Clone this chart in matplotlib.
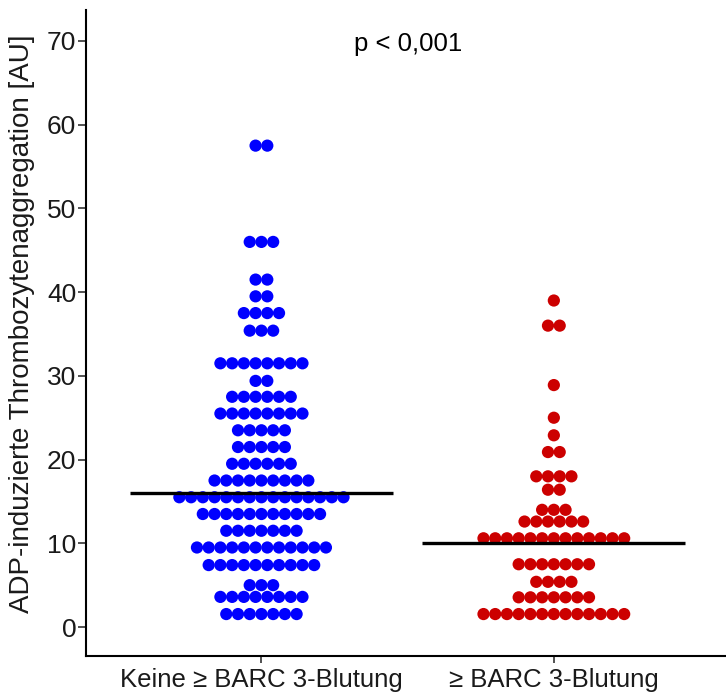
import numpy as np
import matplotlib
matplotlib.use('Agg')
import matplotlib.pyplot as plt

plt.rcParams['font.family'] = ['Liberation Sans', 'DejaVu Sans']

# Dot rows: row value (AU) and number of dots in the row
groups = ['Keine ≥ BARC 3-Blutung', '≥ BARC 3-Blutung']
blue_rows = [57.5, 46.0, 41.5, 39.5, 37.5, 35.4, 31.5, 29.4, 27.5, 25.5, 23.5,
             21.5, 19.5, 17.5, 15.5, 13.5, 11.5, 9.5, 7.4, 5.0, 3.6, 1.55]
blue_counts = [2, 3, 2, 2, 4, 3, 8, 2, 6, 8, 5, 5, 6, 9, 15, 11, 7, 12, 10, 3, 8, 7]
red_rows = [39.0, 36.0, 28.9, 25.0, 22.9, 20.9, 18.0, 16.4, 14.0, 12.6, 10.6,
            7.5, 5.4, 3.55, 1.55]
red_counts = [1, 2, 1, 1, 1, 2, 4, 2, 3, 6, 13, 7, 4, 7, 13]
means = [16.0, 10.0]
colors = ['#0000ff', '#cc0000']
p_text = 'p < 0,001'

fig = plt.figure(figsize=(7.26, 6.93), dpi=100, facecolor='white')
ax = fig.add_axes([86 / 726, 37 / 693, 640 / 726, 646 / 693])

dot_step = 0.0401  # horizontal spacing between stacked dots (x units)

for i, (rows, counts) in enumerate([(blue_rows, blue_counts), (red_rows, red_counts)]):
    xc = i + 1
    xs, ys = [], []
    for v, n in zip(rows, counts):
        offs = (np.arange(n) - (n - 1) / 2) * dot_step
        xs.extend(xc + offs)
        ys.extend([v] * n)
    ax.scatter(xs, ys, s=8.8 ** 2, color=colors[i], edgecolors='none', zorder=2)
    ax.plot([xc - 0.45, xc + 0.45], [means[i], means[i]], color='black',
            linewidth=2.4, solid_capstyle='butt', zorder=3)

ax.text(1.5, 69.6, p_text, ha='center', va='center', fontsize=18.5, color='black')

ax.set_xlim(0.4, 0.4 + 640 / 292.4)
ax.set_ylim(-3.46, 73.7)
ax.set_xticks([1, 2])
ax.set_xticklabels(groups)
ax.set_yticks(np.arange(0, 71, 10))
ax.tick_params(axis='y', labelsize=19, labelcolor='#1a1a1a', length=6, width=1.2,
               color='#333333', pad=1)
ax.tick_params(axis='x', labelsize=18.5, labelcolor='#1a1a1a', length=5, width=1.2,
               color='#333333', pad=4)
ax.set_ylabel('ADP-induzierte Thrombozytenaggregation [AU]', fontsize=20,
              color='#1a1a1a', va='center')
ax.yaxis.set_label_coords(-0.1, 0.515)

for s in ['top', 'right']:
    ax.spines[s].set_visible(False)
for s in ['left', 'bottom']:
    ax.spines[s].set_linewidth(1.5)
    ax.spines[s].set_color('black')

fig.savefig('out.png', dpi=100, facecolor='white')
